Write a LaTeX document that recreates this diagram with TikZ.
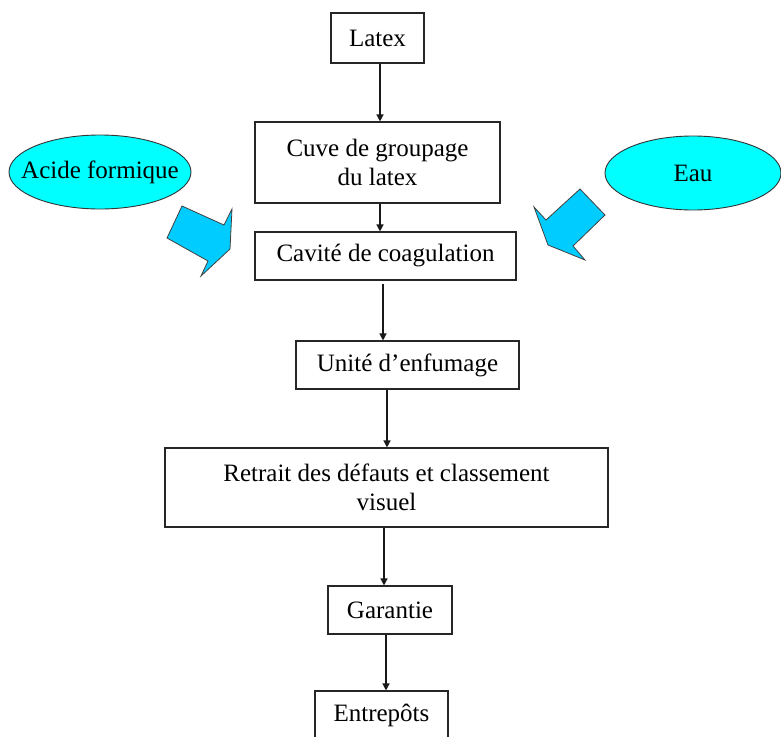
\documentclass[tikz,border=0pt]{standalone}
\usepackage{fontspec}
\setmainfont{Liberation Serif}
\usetikzlibrary{arrows.meta,shapes.geometric}
\definecolor{arrowblue}{HTML}{00CCFF}
\definecolor{bubblecyan}{HTML}{00FFFF}
\begin{document}
\begin{tikzpicture}[x=1pt,y=-1pt,
  box/.style={draw=black!85, line width=1.1pt, rectangle, inner sep=0pt,
    font=\fontsize{25}{29}\selectfont, align=center},
  bubble/.style={ellipse, draw=black!80, line width=0.9pt, fill=bubblecyan,
    inner sep=0pt, font=\fontsize{25}{29}\selectfont},
  arr/.style={draw=black!90, line width=1.3pt, -{Triangle[length=7pt,width=7pt]}},
  blockarrow/.style={fill=arrowblue, draw=black!75, line width=0.8pt, line join=miter}]
\useasboundingbox (0,0) rectangle (781,736);

% process boxes
\node[box, minimum width=93pt, minimum height=50pt] (latex) at (377.5,38) {Latex};
\node[box, minimum width=245pt, minimum height=81pt] (cuve) at (377.5,162.5) {Cuve de groupage\\du latex};
\node[box, minimum width=261pt, minimum height=48pt] (cav) at (385.5,256) {Cavité de coagulation};
\node[box, minimum width=223pt, minimum height=48pt] (unite) at (407.5,365) {Unité d’enfumage};
\node[box, minimum width=443pt, minimum height=79pt] (retrait) at (386.5,487.5) {Retrait des défauts et classement\\visuel};
\node[box, minimum width=124pt, minimum height=48pt] (garantie) at (390,610) {Garantie};
\node[box, minimum width=133pt, minimum height=49pt] (entrepots) at (381.5,715.5) {Entrepôts};

% inputs
\node[bubble, minimum width=182pt, minimum height=74pt, inner xsep=-15pt] (acide) at (100,172) {Acide formique};
\node[bubble, minimum width=176pt, minimum height=74pt] (eau) at (693,173) {Eau};

% block arrows
\draw[blockarrow] (167,238) -- (182,206) -- (224,225) -- (232,209) -- (230,249) -- (201,276) -- (208,261) -- cycle;
\draw[blockarrow] (580,189) -- (605,215) -- (573,246) -- (585,260) -- (548,245) -- (534,207) -- (546,220) -- cycle;

% connectors
\coordinate (c1) at ([xshift=2.5pt]latex.south);
\draw[arr] (c1) -- (c1 |- cuve.north);
\coordinate (c2) at ([xshift=2.5pt]cuve.south);
\draw[arr] (c2) -- (c2 |- cav.north);
\coordinate (c3) at ([xshift=-2.5pt,yshift=-3pt]cav.south);
\draw[arr] (c3) -- (c3 |- unite.north);
\coordinate (c4) at ([xshift=-20.5pt]unite.south);
\draw[arr] (c4) -- (c4 |- retrait.north);
\coordinate (c5) at ([xshift=-2.5pt]retrait.south);
\draw[arr] (c5) -- (c5 |- garantie.north);
\coordinate (c6) at ([xshift=-4pt]garantie.south);
\draw[arr] (c6) -- (c6 |- entrepots.north);
\end{tikzpicture}
\end{document}
